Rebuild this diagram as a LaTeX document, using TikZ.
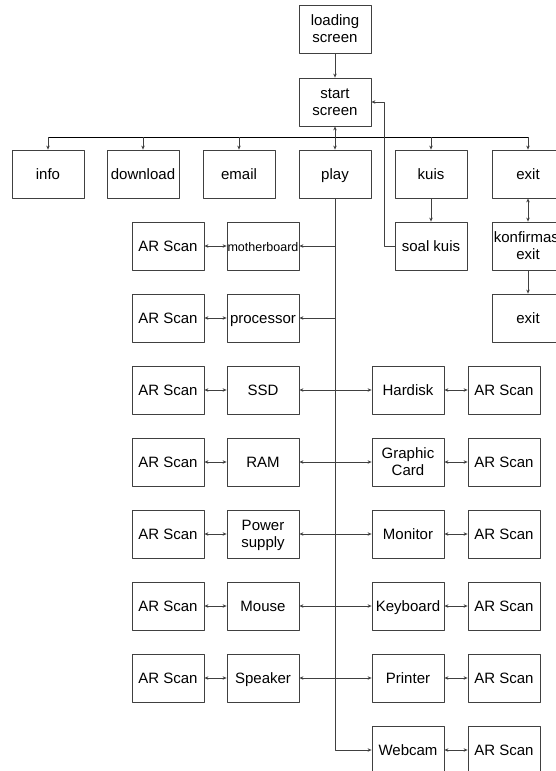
\documentclass[tikz,border=0pt]{standalone}
\usepackage{fontspec}
\setmainfont{Liberation Sans}
\usetikzlibrary{arrows.meta}
\begin{document}
\begin{tikzpicture}[x=1pt,y=-1pt,>={Stealth[length=4pt,width=3.5pt]},
    font=\fontsize{15}{17}\selectfont, line join=round]
	\tikzset{box/.style={draw=black!75, line width=0.8pt, minimum width=72pt, minimum height=48pt, inner sep=0pt, align=center,
	                     text height=11pt, text depth=0pt},
	         two/.style={text height={}},
	         link/.style={black!75, line width=0.7pt}}
	\useasboundingbox (0,0) rectangle (555,771);
	% top part
	\node[box,two] (load) at (335,29) {loading\\screen};
	\node[box,two] (start) at (335,102) {start\\screen};
	\node[box] (info) at (48,174) {info};
	\node[box] (download) at (143,174) {download};
	\node[box] (email) at (239,174) {email};
	\node[box] (play) at (335,174) {play};
	\node[box] (kuis) at (431,174) {kuis};
	\node[box] (exit) at (528,174) {exit};
	\node[box] (soal) at (431,246) {soal kuis};
	\node[box,two] (konf) at (528,246) {konfirmasi\\exit};
	\node[box] (exitb) at (528,318) {exit};
	% left part
	\node[box] (mb) at (263,246) {\fontsize{12.5}{14}\selectfont motherboard};
	\node[box] (proc) at (263,318) {processor};
	\node[box] (ssd) at (263,390) {SSD};
	\node[box] (ram) at (263,462) {RAM};
	\node[box,two] (psu) at (263,534) {Power\\supply};
	\node[box] (mouse) at (263,606) {Mouse};
	\node[box] (spk) at (263,678) {Speaker};
	\foreach \n/\y in {mb/246,proc/318,ssd/390,ram/462,psu/534,mouse/606,spk/678}
	{
		\node[box] (ar\n) at (168,\y) {AR Scan};
		\draw[link,<->] (ar\n.east) -- (\n.west);
	}
	% right part
	\node[box] (hdd) at (408,390) {Hardisk};
	\node[box,two] (gpu) at (408,462) {Graphic\\Card};
	\node[box] (mon) at (408,534) {Monitor};
	\node[box] (kbd) at (408,606) {Keyboard};
	\node[box] (prn) at (408,678) {Printer};
	\node[box] (cam) at (408,750) {Webcam};
	\foreach \n/\y in {hdd/390,gpu/462,mon/534,kbd/606,prn/678,cam/750}
	{
		\node[box] (ar\n) at (504,\y) {AR Scan};
		\draw[link,<->] (\n.east) -- (ar\n.west);
	}
	% connectors
	\coordinate (bar) at (0,137);
	\draw[black, line width=1pt] (info.north |- bar) -- (exit.north |- bar);
	\foreach \n in {info,download,email,kuis,exit}
		\draw[link,->] (\n.north |- bar) -- (\n.north);
	\draw[link,->] (load) -- (start);
	\draw[link,<->] (start) -- (play);
	\draw[link,->] (kuis) -- (soal);
	\draw[link,<->] (exit) -- (konf);
	\draw[link,->] (konf) -- (exitb);
	\draw[link,->] (soal.west) -- ++(-10,0) |- (start.east);
	\draw[link,->] (play.south) |- (mb.east);
	\draw[link,->] (play.south) |- (proc.east);
	\draw[link,->] (play.south) |- (cam.west);
	\draw[link,<->] (ssd) -- (hdd);
	\draw[link,<->] (ram) -- (gpu);
	\draw[link,<->] (psu) -- (mon);
	\draw[link,<->] (mouse) -- (kbd);
	\draw[link,<->] (spk) -- (prn);
\end{tikzpicture}
\end{document}
